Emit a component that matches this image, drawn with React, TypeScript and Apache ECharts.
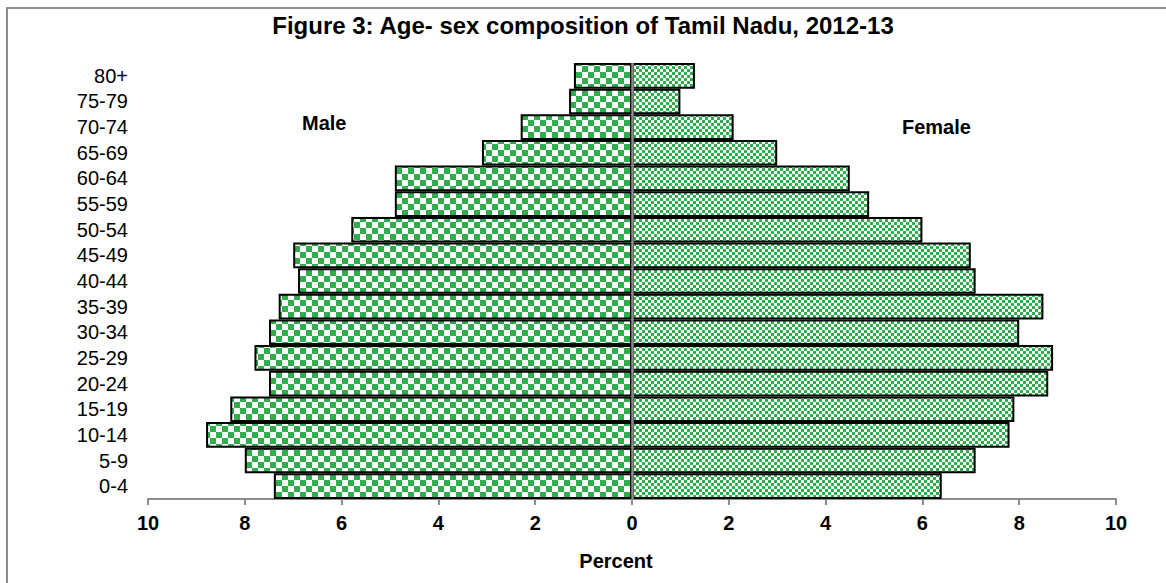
import React, { useEffect, useRef } from "react";
import * as echarts from "echarts";

const ageGroups = ["0-4", "5-9", "10-14", "15-19", "20-24", "25-29", "30-34", "35-39", "40-44", "45-49", "50-54", "55-59", "60-64", "65-69", "70-74", "75-79", "80+"];
const maleValues = [7.4, 8.0, 8.8, 8.3, 7.5, 7.8, 7.5, 7.3, 6.9, 7.0, 5.8, 4.9, 4.9, 3.1, 2.3, 1.3, 1.2];
const femaleValues = [6.4, 7.1, 7.8, 7.9, 8.6, 8.7, 8.0, 8.5, 7.1, 7.0, 6.0, 4.9, 4.5, 3.0, 2.1, 1.0, 1.3];
const axisMin = -10;
const axisMax = 10;
const axisStep = 2;
const titleText = "Figure 3: Age- sex composition of Tamil Nadu, 2012-13";
const xAxisName = "Percent";

const GREEN = "#2fae4e";
const FONT = "'Liberation Sans', Arial, sans-serif";

function makeChecker(cell: number, color: string) {
  const c = document.createElement("canvas");
  c.width = cell * 2;
  c.height = cell * 2;
  const ctx = c.getContext("2d")!;
  ctx.fillStyle = "#ffffff";
  ctx.fillRect(0, 0, cell * 2, cell * 2);
  ctx.fillStyle = color;
  ctx.fillRect(0, 0, cell, cell);
  ctx.fillRect(cell, cell, cell, cell);
  return { image: c, repeat: "repeat", imageWidth: cell * 2, imageHeight: cell * 2 } as any;
}

export default function App() {
  const ref = useRef<HTMLDivElement>(null);

  useEffect(() => {
    document.body.style.margin = "0";
    if (!ref.current) return;
    const chart = echarts.init(ref.current, null, { renderer: "svg" });
    const malePattern = makeChecker(6, GREEN);
    const femalePattern = makeChecker(3, GREEN);

    chart.setOption({
      animation: false,
      backgroundColor: "#ffffff",
      title: {
        text: titleText,
        left: "center",
        top: 8,
        textStyle: { fontFamily: FONT, fontSize: 24, fontWeight: "bold", color: "#000" },
      },
      grid: { left: 148, right: 50, top: 63, bottom: 84, containLabel: false },
      xAxis: {
        type: "value",
        min: axisMin,
        max: axisMax,
        interval: axisStep,
        name: xAxisName,
        nameLocation: "middle",
        nameGap: 52,
        nameTextStyle: { fontFamily: FONT, fontSize: 20, fontWeight: "bold", color: "#000", padding: [0, 32, 0, 0] },
        axisLine: { show: true, onZero: false, lineStyle: { color: "#8c8c8c", width: 2 } },
        axisTick: { show: true, length: 6, lineStyle: { color: "#8c8c8c", width: 2 } },
        axisLabel: {
          margin: 14,
          fontFamily: FONT,
          fontSize: 20,
          fontWeight: "bold",
          color: "#000",
          formatter: (v: number) => String(Math.abs(v)),
        },
        splitLine: { show: false },
      },
      yAxis: {
        type: "category",
        data: ageGroups,
        axisLine: { show: false },
        axisTick: { show: false },
        axisLabel: { interval: 0, margin: 20, fontFamily: FONT, fontSize: 20, color: "#000" },
      },
      series: [
        {
          name: "Male",
          type: "bar",
          data: maleValues.map((v) => -v),
          barCategoryGap: "0%",
          barGap: "-100%",
          itemStyle: { color: malePattern, borderColor: "#000", borderWidth: 2 },
        },
        {
          name: "Female",
          type: "bar",
          data: femaleValues,
          barCategoryGap: "0%",
          barGap: "-100%",
          itemStyle: { color: femalePattern, borderColor: "#000", borderWidth: 2 },
          markLine: {
            silent: true,
            symbol: "none",
            label: { show: false },
            lineStyle: { color: "#8c8c8c", width: 2.5, type: "solid" },
            data: [{ xAxis: 0 }],
          },
        },
      ],
      graphic: [
        {
          type: "rect",
          shape: { x: 7, y: 8, width: 1200, height: 600 },
          style: { fill: "none", stroke: "#8c8c8c", lineWidth: 2 },
          silent: true,
        },
        {
          type: "text",
          x: 302,
          y: 123,
          style: { text: "Male", fontFamily: FONT, fontSize: 20, fontWeight: "bold", fill: "#000", verticalAlign: "middle" },
        },
        {
          type: "text",
          x: 902,
          y: 127,
          style: { text: "Female", fontFamily: FONT, fontSize: 20, fontWeight: "bold", fill: "#000", verticalAlign: "middle" },
        },
      ],
    });

    return () => chart.dispose();
  }, []);

  return (
    <div
      ref={ref}
      style={{ position: "fixed", left: 0, top: 0, width: 1166, height: 583, background: "#fff" }}
    />
  );
}
